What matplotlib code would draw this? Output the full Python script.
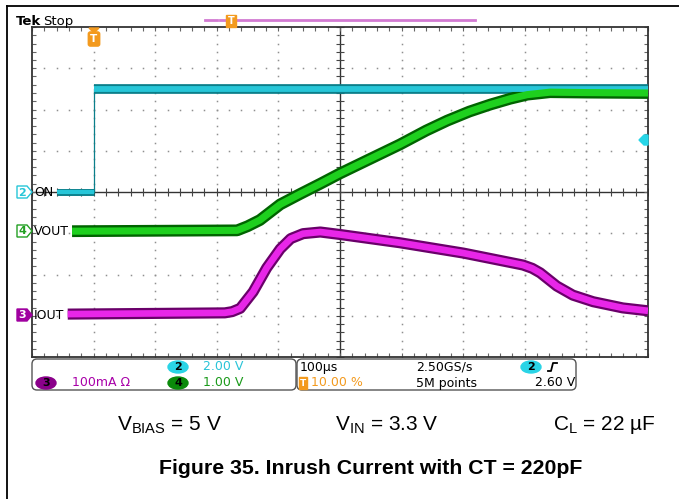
import numpy as np
import matplotlib.pyplot as plt
from matplotlib.patches import FancyBboxPatch, Polygon, Ellipse

plt.rcParams['font.family'] = ['DejaVu Sans']
plt.rcParams['mathtext.fontset'] = 'custom'
plt.rcParams['mathtext.rm'] = 'Liberation Sans'
plt.rcParams['mathtext.it'] = 'Liberation Sans:italic'

# --- scope data (time in us, trigger at 0) ---
on_low_t = [-60, 0]
on_low_v = [0.0, 0.0]
on_high_t = [0, 900]
on_high_v = [5.0, 5.0]

vout_t = [-35, 233, 250, 270, 303, 335, 368, 400, 497, 540, 574, 610, 644, 676, 704, 741, 800, 900]
vout_v = [0.0, 0.02, 0.12, 0.27, 0.65, 0.90, 1.15, 1.40, 2.10, 2.44, 2.68, 2.90, 3.07, 3.21, 3.31, 3.37, 3.36, 3.35]

iout_t = [-42, 213, 225, 238, 259, 281, 303, 320, 340, 368, 400, 497, 600, 697, 712, 725, 752, 778, 811, 859, 900]
iout_ma = [2, 5, 8, 16, 56, 114, 160, 185, 197, 201, 195, 175, 150, 121, 113, 102, 70, 48, 32, 17, 10]

# channel settings: (scale per div, ground position in div from bottom)
ch2 = (2.0, 4.0)     # ON, 2 V/div
ch4 = (1.0, 3.05)    # VOUT, 1 V/div
ch3 = (100.0, 1.02)  # IOUT, 100 mA/div
time_div = 100.0     # us/div
trig_pos = 1.0       # trigger at 1 div from left


def tx(t):
    return (np.asarray(t, float) / time_div) + trig_pos


def vy(v, ch):
    return np.asarray(v, float) / ch[0] + ch[1]


fig = plt.figure(figsize=(6.79, 4.99), dpi=100)
W, H = 679, 499

sc = fig.add_axes([32 / W, (H - 357) / H, 616 / W, 330 / H], zorder=1)
sc.set_xlim(0, 10)
sc.set_ylim(0, 8)

# graticule
ydots = np.arange(0, 8.01, 0.2)
xdots = np.arange(0, 10.01, 0.2)
for i in range(1, 10):
    if i != 5:
        sc.plot(np.full(len(ydots), i), ydots, ls='none', marker='s', ms=1.1,
                mew=0, color='#909090', zorder=1)
for j in range(1, 8):
    if j != 4:
        sc.plot(xdots, np.full(len(xdots), j), ls='none', marker='s', ms=1.1,
                mew=0, color='#909090', zorder=1)
sc.axvline(5, color='#333333', lw=1.0, zorder=1)
sc.axhline(4, color='#333333', lw=1.0, zorder=1)
sc.plot(xdots, np.full(len(xdots), 4), ls='none', marker='|', ms=6, mew=0.8,
        color='#444444', zorder=1)
sc.plot(np.full(len(ydots), 5), ydots, ls='none', marker='_', ms=6, mew=0.8,
        color='#444444', zorder=1)

sc.set_xticks(xdots)
sc.set_yticks(ydots)
sc.tick_params(direction='in', length=3, width=0.8, color='#666666',
               top=True, right=True, labelbottom=False, labelleft=False)
for s in sc.spines.values():
    s.set_color('#333333')
    s.set_linewidth(1.3)


def trace(x, y, dark, bright, lw):
    sc.plot(x, y, color=dark, lw=lw, solid_capstyle='butt', solid_joinstyle='round', zorder=3)
    sc.plot(x, y, color=bright, lw=lw * 0.6, solid_capstyle='butt', solid_joinstyle='round', zorder=4)


# ON (cyan)
trace(tx(on_low_t), vy(on_low_v, ch2), '#0b7f8a', '#27c6d8', 5.0)
trace(tx(on_high_t), vy(on_high_v, ch2), '#0b7f8a', '#27c6d8', 7.0)
sc.plot(tx([0, 0]), vy([0, 5.0], ch2), color='#0b7f8a', lw=0.9, zorder=3)
# VOUT (green)
trace(tx(vout_t), vy(vout_v, ch4), '#006400', '#1ed01e', 8.5)
# IOUT (magenta)
trace(tx(iout_t), vy(iout_ma, ch3), '#6a006a', '#e826e8', 8.0)

# --- overlay decorations in pixel coordinates ---
ov = fig.add_axes([0, 0, 1, 1], zorder=5)
ov.set_xlim(0, W)
ov.set_ylim(H, 0)
ov.axis('off')

ov.plot([7, 7], [6, H], color='black', lw=1.3)
ov.plot([7, W], [6, 6], color='black', lw=1.3)

ov.text(16, 21, 'Tek', fontsize=9.5, weight='bold', va='center')
ov.text(43, 21, 'Stop', fontsize=9.5, va='center')

# top record bar
ov.plot([205, 217], [20, 20], color='#d27ad2', lw=2)
ov.plot([220, 475], [20, 20], color='#d27ad2', lw=2)
orange = '#f39a1e'
ov.text(231, 21, 'T', fontsize=7, weight='bold', color='white', ha='center', va='center',
        bbox=dict(boxstyle='square,pad=0.15', fc=orange, ec=orange))

# trigger position marker
ov.add_patch(Polygon([(89, 28), (99, 28), (94, 33)], closed=True, fc=orange, ec=orange))
ov.text(94, 39, 'T', fontsize=7.5, weight='bold', color='white', ha='center', va='center',
        bbox=dict(boxstyle='round,pad=0.2', fc=orange, ec=orange))

# trigger level marker (right)
ov.add_patch(Polygon([(639, 140), (644, 135), (648, 135), (648, 145), (644, 145)],
                     closed=True, fc='#27d6e8', ec='#27d6e8'))


def ch_marker(y, num, label, color, filled):
    pts = [(17, y - 6), (27, y - 6), (32, y), (27, y + 6), (17, y + 6)]
    ov.add_patch(Polygon(pts, closed=True, fc=color if filled else 'white',
                         ec=color, lw=1))
    ov.text(22, y + 0.5, num, fontsize=8, weight='bold', ha='center', va='center',
            color='white' if filled else color)
    ov.text(34, y + 0.5, label, fontsize=9, ha='left', va='center', color='black')


ch_marker(192, '2', 'ON', '#27c6d8', False)
ch_marker(231, '4', 'VOUT', '#22a022', False)
ch_marker(315, '3', 'IOUT', '#a000a0', True)

# info boxes
for x0, x1 in [(32, 296), (297, 576)]:
    ov.add_patch(FancyBboxPatch((x0, 359), x1 - x0, 31,
                                boxstyle='round,pad=0,rounding_size=5',
                                fc='none', ec='#555555', lw=1))


def badge(x, y, num, color, tcolor='black'):
    ov.add_patch(Ellipse((x, y), 20, 12, fc=color, ec=color))
    ov.text(x, y + 0.5, num, fontsize=8, weight='bold', ha='center', va='center', color=tcolor)


badge(178, 367, '2', '#2ad4e6')
ov.text(203, 367, '2.00 V', fontsize=9, color='#2ac4d8', va='center')
badge(46, 383, '3', '#8a008a')
ov.text(72, 383, '100mA \u03a9', fontsize=9, color='#a800a8', va='center')
badge(178, 383, '4', '#0a8a0a')
ov.text(203, 383, '1.00 V', fontsize=9, color='#1a9a1a', va='center')

ov.text(300, 367, '100\u00b5s', fontsize=9, color='black', va='center')
ov.text(303, 383, 'T', fontsize=6.5, weight='bold', color='white', ha='center', va='center',
        bbox=dict(boxstyle='square,pad=0.15', fc=orange, ec=orange))
ov.text(311, 383, '10.00 %', fontsize=9, color=orange, va='center')
ov.text(416, 367, '2.50GS/s', fontsize=9, color='black', va='center')
ov.text(416, 383, '5M points', fontsize=9, color='black', va='center')
badge(531, 367, '2', '#2ad4e6')
ov.plot([548, 551, 553, 557], [371, 371, 363, 363], color='black', lw=1.3)
ov.text(575, 383, '2.60 V', fontsize=9, color='black', va='center', ha='right')

# conditions and caption
ov.text(117, 425, r'V$_{\mathrm{BIAS}}$ = 5 V', fontsize=15, family='Liberation Sans', va='center')
ov.text(335, 425, r'V$_{\mathrm{IN}}$ = 3.3 V', fontsize=15, family='Liberation Sans', va='center')
ov.text(553, 425, 'C$_{\\mathrm{L}}$ = 22 \u00b5F', fontsize=15,
        family='Liberation Sans', va='center')
ov.text(371, 468, 'Figure 35. Inrush Current with CT = 220pF', fontsize=15.3, weight='bold',
        family='Liberation Sans', ha='center', va='center')

fig.savefig('out.png', dpi=100)
